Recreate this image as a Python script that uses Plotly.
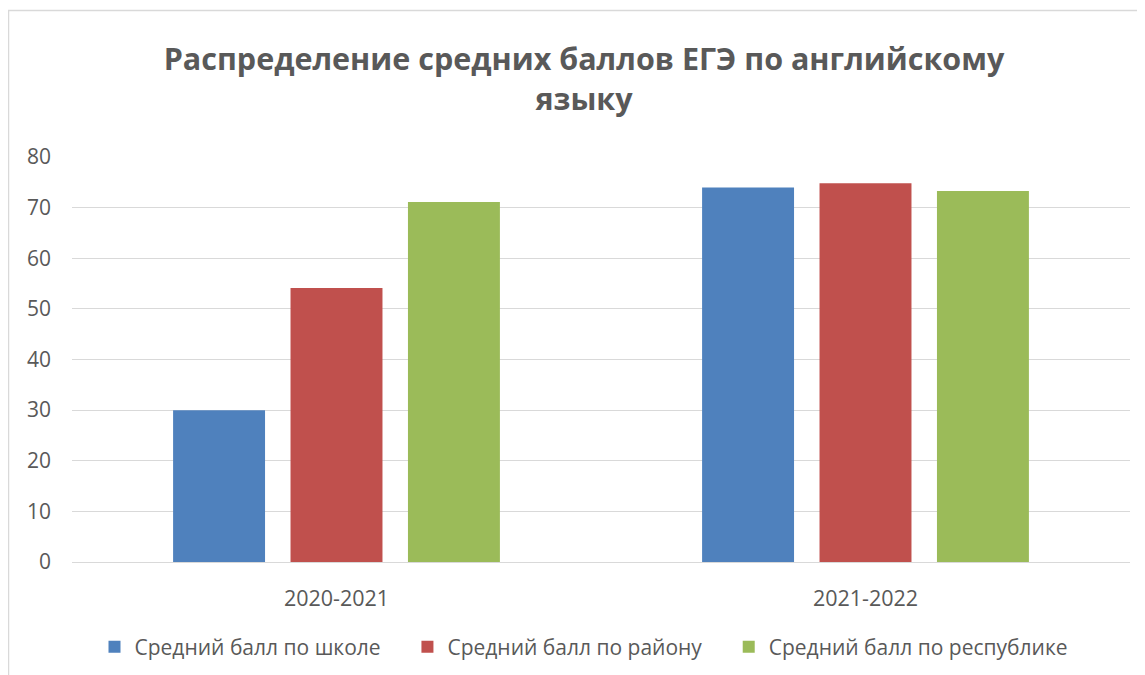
import plotly.graph_objects as go

categories = ["2020-2021", "2021-2022"]
series_names = ["Средний балл по школе", "Средний балл по району", "Средний балл по республике"]
school = [30.0, 74.0]
district = [54.1, 74.8]
republic = [71.1, 73.3]
colors = ["#4F81BD", "#C0504D", "#9BBB59"]

OFF = 8  # page body margin
W, H = 1145 - OFF, 675 - OFF
ml, mr, mt, mb = 72 - OFF, 15, 157 - OFF, 675 - 562
pw, ph = W - ml - mr, H - mt - mb

PAD = "\u00a0" * 4
fig = go.Figure()
n = len(series_names)
for i, (name, vals, c) in enumerate(zip(series_names, [school, district, republic], colors)):
    label = name + (PAD if i < n - 1 else "")
    fig.add_trace(go.Bar(x=categories, y=vals, name=label, marker=dict(color=c, line=dict(width=0))))

def px_x(x):
    return (x - OFF - ml) / pw

def px_y(y):
    return (H - mb - (y - OFF)) / ph

gray = "#595959"
fig.update_layout(
    width=W, height=H,
    margin=dict(l=ml, r=mr, t=mt, b=mb, autoexpand=False),
    paper_bgcolor="white", plot_bgcolor="white",
    font=dict(family="Open Sans", color=gray, size=18),
    barmode="group", bargap=0.334, bargroupgap=0.217,
    title=dict(
        text="<b>Распределение средних баллов ЕГЭ по английскому<br>языку</b>",
        x=px_x(584), xref="paper", xanchor="center",
        y=1 - (70 - OFF) / H, yanchor="top",
        font=dict(family="Open Sans", size=30.5, color=gray),
    ),
    xaxis=dict(showgrid=False, showline=True, linecolor="#d9d9d9", linewidth=1,
               ticks="", tickfont=dict(size=21.5, color=gray), ticklabelstandoff=17),
    yaxis=dict(range=[0, 80], dtick=10, showgrid=True, gridcolor="#d9d9d9", gridwidth=1,
               zeroline=False, showline=False, ticks="", tickfont=dict(size=21, color=gray),
               ticklabelstandoff=20),
    legend=dict(orientation="h", x=px_x(584), xanchor="center", y=px_y(647), yanchor="middle",
                font=dict(size=21, color=gray), traceorder="normal"),
    showlegend=True,
    shapes=[dict(type="rect", xref="paper", yref="paper",
                 x0=px_x(8.5), x1=px_x(1170), y0=px_y(700), y1=px_y(10.5),
                 line=dict(color="#d9d9d9", width=1.5), fillcolor="rgba(0,0,0,0)", layer="below")],
)

fig.write_html("out.html")
